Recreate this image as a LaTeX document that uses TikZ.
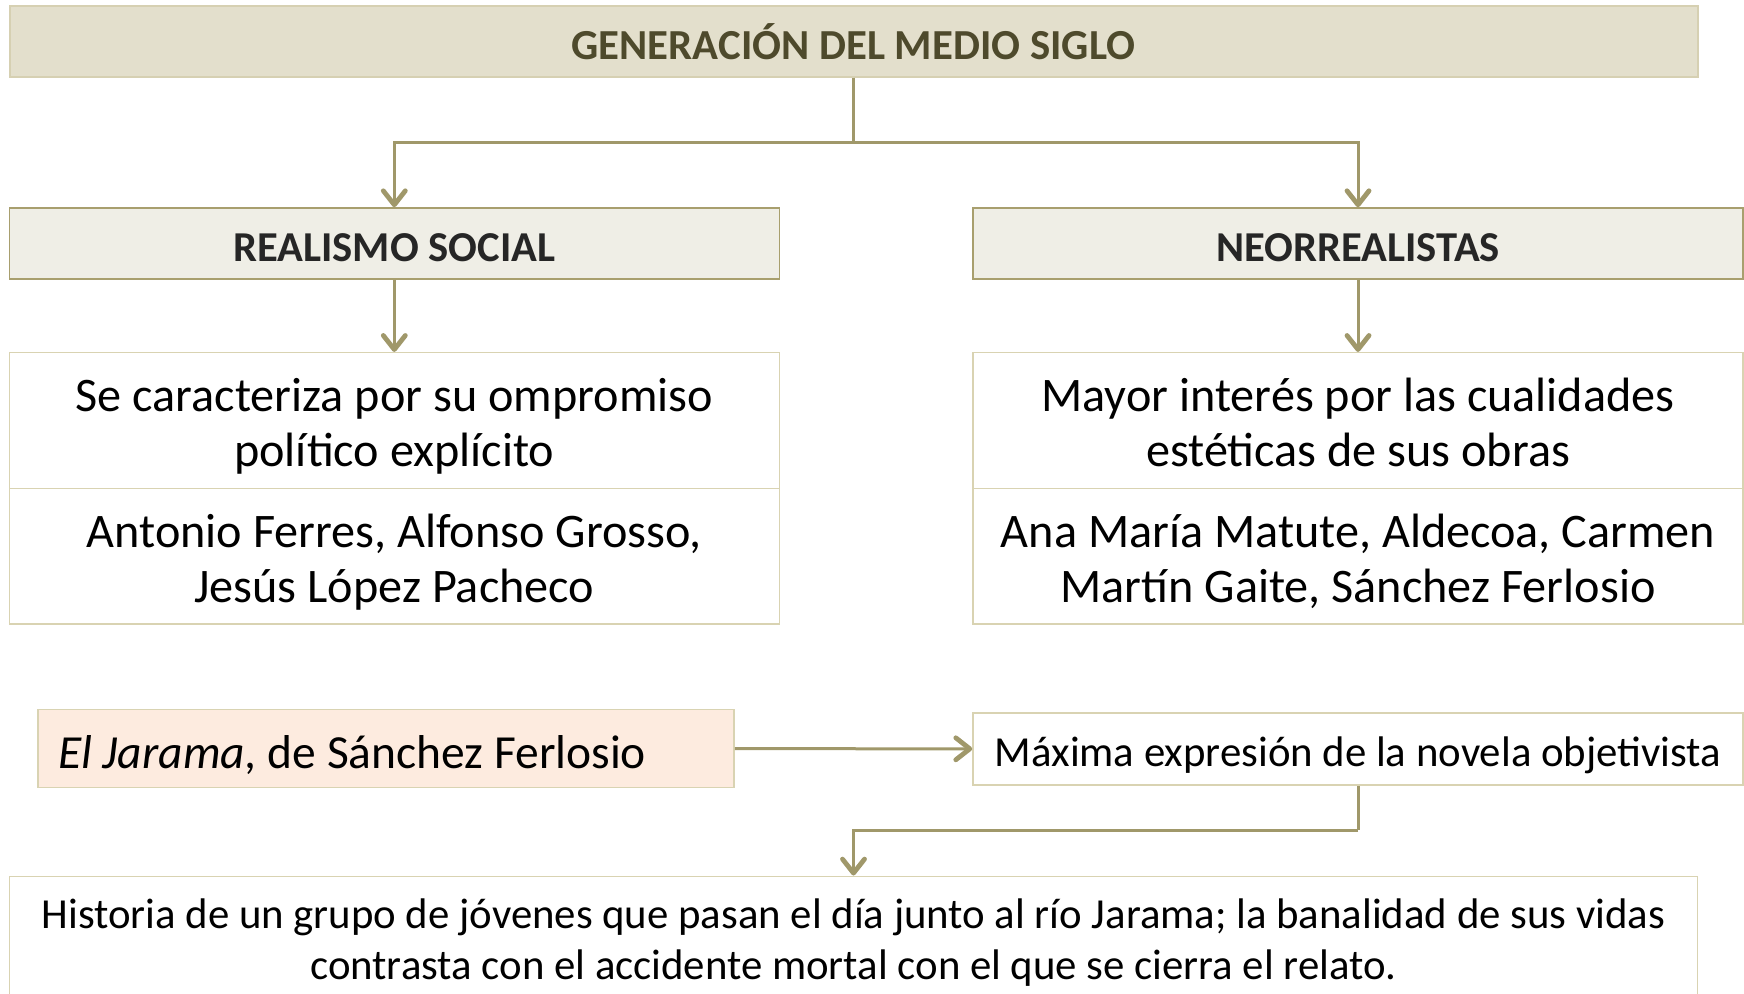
\documentclass[tikz,border=0pt]{standalone}
\usepackage{fontspec}
\setmainfont{Carlito}
\usetikzlibrary{arrows.meta}
\definecolor{titlefill}{HTML}{E3DFCC}
\definecolor{titleline}{HTML}{D6D0B2}
\definecolor{titletext}{HTML}{4E4A2C}
\definecolor{headfill}{HTML}{EFEEE6}
\definecolor{headline}{HTML}{A89F6E}
\definecolor{boxline}{HTML}{D9D3B2}
\definecolor{peach}{HTML}{FDEBDF}
\definecolor{olive}{HTML}{A0986A}
% lower the text a little, keeping the box size
\newcommand{\lowtext}[2][3.6pt]{\raisebox{-#1}[\height][\depth]{\begin{tabular}{@{}c@{}}#2\end{tabular}}}
\tikzset{
  titlebox/.style={draw=titleline, fill=titlefill, line width=1pt, minimum width=844pt, minimum height=35.5pt, font=\fontsize{21.4}{25}\selectfont\bfseries, text=titletext},
  headbox/.style={draw=headline, fill=headfill, line width=0.8pt, minimum width=385pt, minimum height=35.5pt, font=\fontsize{21.3}{25}\selectfont\bfseries, text=black!85},
  textbox/.style={draw=boxline, fill=white, line width=0.8pt, minimum width=385pt, minimum height=67.8pt, font=\fontsize{24.1}{27.8}\selectfont},
  conn/.style={draw=olive, line width=1.5pt, -{Straight Barb[length=7pt,width=11pt,line width=2.4pt,round]}}
}
\begin{document}
\begin{tikzpicture}[x=0.5pt,y=-0.5pt]
      \useasboundingbox (0,0) rectangle (1744,994);
      \clip (0,0) rectangle (1744,994);
      \node[titlebox] (titulo) at (853.5,41.2) {GENERACIÓN DEL MEDIO SIGLO};
      \node[headbox] (realismo) at (394.3,243.5) {\lowtext[3.9pt]{REALISMO SOCIAL}};
      \node[headbox] (neo) at (1358,243.5) {\lowtext[3.9pt]{NEORREALISTAS}};
      \node[textbox] (rasgo1) at (394.3,420.5) {\lowtext{Se caracteriza por su ompromiso\\político explícito}};
      \node[textbox] (autores1) at (394.3,556.2) {\lowtext[3.9pt]{Antonio Ferres, Alfonso Grosso,\\Jesús López Pacheco}};
      \node[textbox] (rasgo2) at (1358,420.5) {\lowtext{Mayor interés por las cualidades\\estéticas de sus obras}};
      \node[textbox] (autores2) at (1358,556.2) {\lowtext[3.9pt]{Ana María Matute, Aldecoa, Carmen\\Martín Gaite, Sánchez Ferlosio}};
      \node[draw=boxline, fill=peach, line width=0.8pt, minimum width=348pt, minimum height=39pt, text width=328pt, align=flush left, font=\fontsize{23.75}{27}\selectfont] (jarama) at (386,748.5) {\raisebox{-3.3pt}[\height][\depth]{\textit{El Jarama,} de Sánchez Ferlosio}};
      \node[draw=boxline, fill=white, line width=0.8pt, minimum width=385pt, minimum height=36pt, font=\fontsize{21.4}{25}\selectfont] (maxima) at (1358,749) {\raisebox{-3pt}[\height][\depth]{Máxima expresión de la novela objetivista}};
      \node[draw=boxline, fill=white, line width=0.8pt, minimum width=844pt, anchor=north, align=center, font=\fontsize{21.4}{25.3}\selectfont, inner xsep=8pt, inner ysep=11.3pt] (historia) at (853.5,875.5) {Historia de un grupo de jóvenes que pasan el día junto al río Jarama; la banalidad de sus vidas\\contrasta con el accidente mortal con el que se cierra el relato.};
      \coordinate (split) at (853.5,142.5);
      \coordinate (bend) at (1358,830);
      \begin{scope}[conn]
        \draw[-] (titulo) to (split);
        \draw (split) -| (realismo);
        \draw (split) -| (neo);
        \draw (realismo) to (rasgo1);
        \draw (neo) to (rasgo2);
        \draw (jarama) to (maxima);
        \draw[-] (maxima) to (bend);
        \draw (bend) -| (historia);
      \end{scope}
    \end{tikzpicture}
\end{document}
